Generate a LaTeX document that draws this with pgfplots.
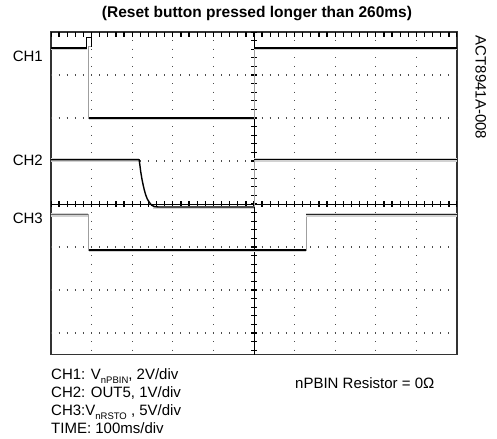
\documentclass[border=0pt]{standalone}
\usepackage{pgfplots}
\pgfplotsset{compat=1.18}
\usepackage{fontspec}
\setmainfont{Liberation Sans}

\begin{document}
\begin{tikzpicture}
\useasboundingbox (-51bp,-84.5bp) rectangle (446bp,354.5bp);
\begin{axis}[at={(0,0)}, anchor=south west, scale only axis,
  x=40.6bp, y=43bp, xmin=0, xmax=10, ymin=-3.5, ymax=4,
  ticks=none, axis line style={line width=1.3bp, black!80}]

% dotted grid
\pgfplotsinvokeforeach{1,2,3,4,6,7,8,9}{
  \draw[black!70, line width=1.1bp, dash pattern=on 1bp off 7.6bp, dash phase=0.5bp] (axis cs:#1,4) -- (axis cs:#1,-3.5);
}
\pgfplotsinvokeforeach{-3,-2,-1,1,2,3}{
  \draw[black!70, line width=1.1bp, dash pattern=on 1bp off 7.12bp, dash phase=0.5bp] (axis cs:0,#1) -- (axis cs:10,#1);
}
% centre lines with minor ticks
\draw[black, line width=0.9bp] (axis cs:0,0) -- (axis cs:10,0);
\draw[black, line width=0.9bp] (axis cs:5,4) -- (axis cs:5,-3.5);
\draw[black, line width=6bp, dash pattern=on 1.3bp off 6.82bp, dash phase=0.65bp] (axis cs:0,0) -- (axis cs:10,0);
\draw[black, line width=6bp, dash pattern=on 1.3bp off 7.3bp, dash phase=0.65bp] (axis cs:5,4) -- (axis cs:5,-3.5);
\draw[black, line width=5bp, dash pattern=on 1.3bp off 6.82bp, dash phase=0.65bp] ([yshift=-2.5bp]axis cs:0,4) -- ([yshift=-2.5bp]axis cs:10,4);
\fill[black] ([yshift=1bp]axis cs:5,4) ++(-3.5bp,0) -- ++(7bp,0) -- ++(-3.5bp,-6bp) -- cycle;

% ---- traces: halo, edges, levels ----
% CH1
\addplot[gray!75, line width=0.8bp] coordinates {(0,3.63) (0.88,3.63) (0.88,3.87) (0.99,3.87) (0.99,3.66) (0.93,3.66) (0.93,2.0) (5.0,2.0) (5.0,3.63) (10,3.63)};
\addplot[gray!35, line width=3.5bp] coordinates {(0,3.62) (0.88,3.62)};
\addplot[gray!35, line width=3.5bp] coordinates {(0.94,1.99) (5.0,1.99)};
\addplot[gray!35, line width=3.5bp] coordinates {(5.0,3.62) (10,3.62)};
\addplot[black, line width=1.6bp] coordinates {(0,3.63) (0.88,3.63)};
\addplot[black, line width=1.0bp] coordinates {(0.88,3.63) (0.88,3.87) (0.99,3.87) (0.99,3.66)};
\addplot[black, line width=1.8bp] coordinates {(0.94,2.0) (5.0,2.0)};
\addplot[black, line width=1.6bp] coordinates {(5.0,3.63) (10,3.63)};

% CH2
\addplot[gray!35, line width=3.5bp] coordinates {(0,1.02) (2.17,1.02)};
\addplot[gray!35, line width=3.5bp] coordinates {(2.5,-0.08) (5.0,-0.08)};
\addplot[gray!35, line width=3.5bp] coordinates {(5.0,1.02) (10,1.02)};
\addplot[gray!75, line width=0.8bp] coordinates {(5.0,-0.07) (5.0,1.03)};
\addplot[black, line width=1.4bp] coordinates {(0,1.03) (2.17,1.03) (2.19,0.90) (2.21,0.75) (2.24,0.58) (2.27,0.44) (2.30,0.32) (2.33,0.22) (2.37,0.12) (2.42,0.04) (2.48,-0.03) (2.55,-0.06) (2.65,-0.07) (5.0,-0.07)};
\addplot[black, line width=1.4bp] coordinates {(5.0,1.03) (10,1.03)};

% CH3
\addplot[gray!75, line width=0.8bp] coordinates {(0,-0.25) (0.93,-0.25) (0.93,-1.07) (6.28,-1.07) (6.28,-0.25) (10,-0.25)};
\addplot[gray!35, line width=3.5bp] coordinates {(0,-0.26) (0.92,-0.26)};
\addplot[gray!35, line width=3.5bp] coordinates {(0.94,-1.08) (6.28,-1.08)};
\addplot[gray!35, line width=3.5bp] coordinates {(6.29,-0.26) (10,-0.26)};
\addplot[black!60, line width=1.2bp] coordinates {(0,-0.25) (0.92,-0.25)};
\addplot[black, line width=1.8bp] coordinates {(0.94,-1.07) (6.28,-1.07)};
\addplot[black!85, line width=1.4bp] coordinates {(6.29,-0.25) (10,-0.25)};
\end{axis}

% labels
\node[anchor=east, inner sep=0pt, font=\fontsize{15bp}{18bp}\selectfont] at (-8bp,298bp) {CH1};
\node[anchor=east, inner sep=0pt, font=\fontsize{15bp}{18bp}\selectfont] at (-8bp,194bp) {CH2};
\node[anchor=east, inner sep=0pt, font=\fontsize{15bp}{18bp}\selectfont] at (-8bp,136bp) {CH3};
\node[inner sep=0pt, font=\fontsize{15.5bp}{18bp}\selectfont\bfseries] at (206bp,341bp) {(Reset button pressed longer than 260ms)};
\node[inner sep=0pt, rotate=-90, font=\fontsize{15bp}{18bp}\selectfont] at (429.7bp,267bp) {ACT8941A-008};

\node[anchor=base west, inner sep=0pt, font=\fontsize{15bp}{18bp}\selectfont] at (0bp,-24.9bp) {CH1: V\raisebox{-0.3em}{\fontsize{9.5bp}{10bp}\selectfont nPBIN}, 2V/div};
\node[anchor=base west, inner sep=0pt, font=\fontsize{15bp}{18bp}\selectfont] at (0bp,-42.6bp) {CH2: OUT5, 1V/div};
\node[anchor=base west, inner sep=0pt, font=\fontsize{15bp}{18bp}\selectfont] at (0bp,-60.9bp) {CH3:V\raisebox{-0.3em}{\fontsize{9.5bp}{10bp}\selectfont nRSTO} , 5V/div};
\node[anchor=base west, inner sep=0pt, font=\fontsize{15bp}{18bp}\selectfont] at (0bp,-79.2bp) {TIME: 100ms/div};
\node[anchor=base west, inner sep=0pt, font=\fontsize{15bp}{18bp}\selectfont] at (244bp,-34.2bp) {nPBIN Resistor = 0Ω};
\end{tikzpicture}
\end{document}
